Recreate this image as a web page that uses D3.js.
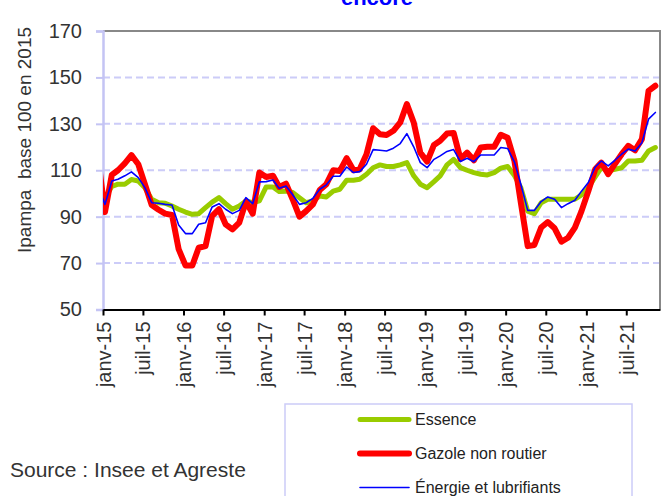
<!DOCTYPE html>
<html>
<head>
<meta charset="utf-8">
<script src="https://cdn.jsdelivr.net/npm/d3@7"></script>
<style>
  body { margin: 0; background: #fff; }
  svg { display: block; font-family: Arial, "Liberation Sans", sans-serif; }
</style>
</head>
<body>
<svg width="667" height="496"></svg>
<script>
// monthly values, dec-14 .. nov-21 (dec-14 sits left of the axis and is clipped)
var essence = [96, 98, 103, 104, 104, 106, 105.4, 102.5, 97.5, 96, 95.8, 94.6, 93.2, 92, 91, 91.3, 93.9, 96.3, 98.2, 95.6, 93.2, 94.6,
    96.8, 96, 96.8, 102.8, 102.8, 100.8, 101, 100.4, 98.2, 96, 96.8, 98.9, 98.5, 101, 101.8, 105.7, 105.7, 106.1, 108.3, 111.1,
    112.3, 111.6, 111.6, 112.3, 113.3, 107.6, 104, 102.5, 105.1, 107.6, 112.3, 114.7, 111.1, 110, 109, 108.3, 108, 109, 110.9, 111.6, 107.7,
    102.5, 92.4, 91.3, 96, 97.5, 97.5, 97.5, 97.5, 97.5, 99.4, 102.5, 107.1, 111.1, 109.7, 110.4, 111.1, 114, 114, 114.3, 118.3, 119.8];
var gazole = [115, 92, 108, 110, 113, 116.5, 112.6, 104, 95, 93, 91.3, 90.7, 76, 69, 69, 76.6, 77.3, 90.3, 93.2, 86.7, 84.5, 87.4,
    96.5, 91.3, 109, 107.1, 107.6, 102.8, 104.2, 97.5, 90, 92.4, 95.3, 101.5, 104, 110, 109.7, 115.2, 110, 110.4, 116.9, 128.1,
    125.5, 125.2, 127, 130.6, 138.5, 130.6, 117.6, 113.7, 120.9, 122.7, 125.8, 126.1, 114.9, 117.6, 114.3, 119.8, 120.1, 120.1, 125.3, 124, 114,
    96, 77.3, 77.8, 85.3, 87.7, 85, 79.2, 80.9, 85.3, 92.4, 101, 110.4, 113.3, 108.3, 112.6, 116.9, 120.5, 118.6, 123.4, 144.2, 146.4];
var energie = [103, 95.3, 105.4, 106.1, 107.6, 109.3, 106.8, 102.5, 96, 95.8, 95.3, 95, 86.4, 82.7, 82.7, 86.7, 87.4, 94.2, 95.6, 93.2, 91.3, 92.7,
    98.2, 95.6, 105, 105.1, 105.8, 102.2, 103.2, 99.4, 95.3, 96, 97.9, 101.8, 103.7, 107.4, 107.4, 111.4, 109, 109.4, 112.6, 118.9,
    118.6, 118.3, 119.5, 121.5, 125.8, 120.1, 113.3, 111.1, 114.7, 116.2, 118.1, 118.9, 113.7, 115.2, 113.7, 116.6, 116.6, 116.6, 119.8, 119.4, 113.5,
    104, 92.7, 92.7, 96.5, 98.5, 97.5, 93.9, 95.6, 97.1, 101, 104.7, 111.4, 114, 111.9, 114.3, 116.9, 119.1, 118.3, 121.9, 132, 134.9];

var months = essence.map(function (d, i) { return new Date(2014, 11 + i, 10); });

var tickLabels = ["janv-15", "juil-15", "janv-16", "juil-16", "janv-17", "juil-17", "janv-18",
    "juil-18", "janv-19", "juil-19", "janv-20", "juil-20", "janv-21", "juil-21"];
var tickDates = tickLabels.map(function (d, i) { return new Date(2015, i * 6, 1); });
var yTicks = [50, 70, 90, 110, 130, 150, 170];

var series = [
    {name: "Essence", values: essence, color: "#99cc00", width: 5},
    {name: "Gazole non routier", values: gazole, color: "#ff0000", width: 6},
    {name: "Énergie et lubrifiants", values: energie, color: "#0000ff", width: 1.6}
];

var svg = d3.select("svg");
var pLeft = 103, pRight = 660, pTop = 31, pBottom = 309.5;

var x = d3.scaleTime()
    .domain([new Date(2015, 0, 1), new Date(2021, 11, 1)])
    .range([pLeft, pRight]);
var y = d3.scaleLinear().domain([50, 170]).range([pBottom, pTop]);

// cut-off title
svg.append("text")
    .attr("x", 377).attr("y", 5)
    .attr("text-anchor", "middle")
    .style("font-size", "22px").style("font-weight", "bold")
    .style("fill", "#0000ff")
    .text("encore");

svg.append("defs").append("clipPath").attr("id", "plot")
    .append("rect")
    .attr("x", pLeft).attr("y", pTop - 10)
    .attr("width", pRight - pLeft).attr("height", pBottom - pTop + 10);

// dashed grid
svg.append("g")
    .selectAll("line")
    .data(yTicks.filter(function (d) { return d > 50 && d < 170; }))
    .enter().append("line")
    .attr("x1", pLeft).attr("x2", pRight)
    .attr("y1", function (d) { return y(d); })
    .attr("y2", function (d) { return y(d); })
    .style("stroke", "#ccccf8")
    .style("stroke-width", 2)
    .style("stroke-dasharray", "7,4");

// plot frame top / right
svg.append("path")
    .attr("d", "M" + pLeft + "," + pTop + "H" + pRight + "V" + pBottom)
    .style("fill", "none").style("stroke", "#888").style("stroke-width", 2);

// y axis
var yAxis = svg.append("g")
    .attr("transform", "translate(" + pLeft + ",0)")
    .call(d3.axisLeft(y).tickValues(yTicks).tickSize(7).tickPadding(14));
yAxis.select(".domain").style("stroke", "#c4c4f4").style("stroke-width", 2.5);
yAxis.selectAll(".tick line").style("stroke", "#c4c4f4").style("stroke-width", 2);
yAxis.selectAll(".tick text")
    .style("font-size", "20px").style("fill", "#333")
    .style("font-family", "Arial, 'Liberation Sans', sans-serif");

// x axis
var xAxis = svg.append("g")
    .attr("transform", "translate(0," + pBottom + ")")
    .call(d3.axisBottom(x).tickValues(tickDates)
        .tickFormat(function (d, i) { return tickLabels[i]; })
        .tickSize(6).tickSizeOuter(0));
xAxis.select(".domain").style("stroke", "#000").style("stroke-width", 2);
xAxis.selectAll(".tick line").style("stroke", "#000").style("stroke-width", 2);
xAxis.selectAll(".tick text")
    .attr("transform", "rotate(-90)")
    .attr("text-anchor", "end")
    .attr("x", -12).attr("y", 0).attr("dy", "0.35em")
    .style("font-size", "20px").style("fill", "#333")
    .style("font-family", "Arial, 'Liberation Sans', sans-serif");

// series
var line = d3.line()
    .x(function (d, i) { return x(months[i]); })
    .y(function (d) { return y(d); });

svg.append("g")
    .attr("clip-path", "url(#plot)")
    .selectAll("path")
    .data(series)
    .enter().append("path")
    .attr("d", function (d) { return line(d.values); })
    .style("fill", "none")
    .style("stroke", function (d) { return d.color; })
    .style("stroke-width", function (d) { return d.width; })
    .style("stroke-linejoin", "round")
    .style("stroke-linecap", "round");

// y title
svg.append("text")
    .attr("transform", "translate(31,140) rotate(-90)")
    .attr("text-anchor", "middle")
    .style("font-size", "19px").style("fill", "#333")
    .style("white-space", "pre")
    .text("Ipampa  base 100 en 2015");

// legend
var legend = svg.append("g");
legend.append("rect")
    .attr("x", 285).attr("y", 404)
    .attr("width", 347).attr("height", 110)
    .style("fill", "#fff").style("stroke", "#ccccf8").style("stroke-width", 1.5);

var item = legend.selectAll(".item")
    .data(series)
    .enter().append("g")
    .attr("class", "item")
    .attr("transform", function (d, i) { return "translate(0," + (419.5 + i * 34) + ")"; });
item.append("line")
    .attr("x1", 360).attr("x2", 409)
    .style("stroke", function (d) { return d.color; })
    .style("stroke-width", function (d) { return d.width; })
    .style("stroke-linecap", "round");
item.append("text")
    .attr("x", 415).attr("dy", "0.35em")
    .style("font-size", "16px").style("fill", "#222")
    .text(function (d) { return d.name; });

svg.append("text")
    .attr("x", 10).attr("y", 477)
    .style("font-size", "21px").style("fill", "#333")
    .text("Source : Insee et Agreste");
</script>
</body>
</html>
